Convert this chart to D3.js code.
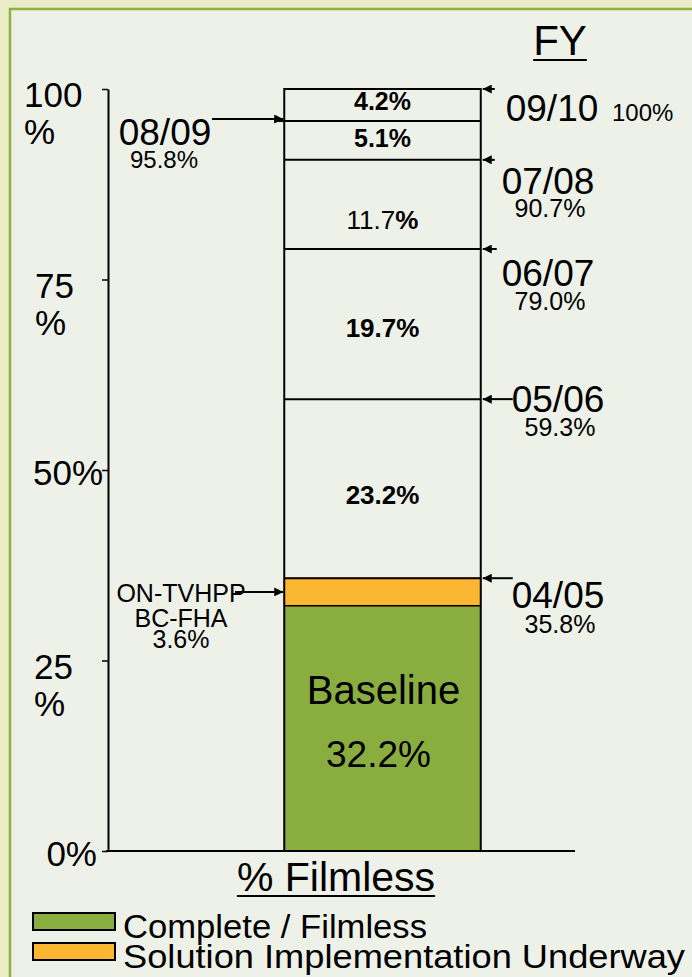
<!DOCTYPE html>
<html>
<head>
<meta charset="utf-8">
<script src="https://cdn.jsdelivr.net/npm/d3@7"></script>
<style>
  html, body { margin: 0; padding: 0; background: #e9ecc6; }
  svg { display: block; font-family: "Liberation Sans", Arial, sans-serif; }
</style>
</head>
<body>
<svg id="chart" width="692" height="977"></svg>
<script>
"use strict";

// values
const fiscalYears = ["04/05", "05/06", "06/07", "07/08", "08/09", "09/10"];
const cumulative = [35.8, 59.3, 79.0, 90.7, 95.8, 100];
const baseline = 32.2;
const underway = 3.6;
const stepLabels = ["23.2%", "19.7%", "11.7%", "5.1%", "4.2%"];
const underwayLines = ["ON-TVHPP", "BC-FHA", "3.6%"];
const tickValues = [0, 25, 50, 75, 100];
const tickLabels = [["0%"], ["25", "%"], ["50%"], ["75", "%"], ["100", "%"]];
const legendItems = ["Complete / Filmless", "Solution Implementation Underway"];
const legendColors = ["#8aad40", "#fbb731"];

const svg = d3.select("#chart");
const W = 692, H = 977;

// panel
svg.append("rect").attr("width", W).attr("height", H).attr("fill", "#e9ecc6");
svg.append("rect")
  .attr("x", 10).attr("y", 9)
  .attr("width", W + 10).attr("height", H + 10)
  .attr("fill", "#eef1e8")
  .attr("stroke", "#8db145")
  .attr("stroke-width", 2.5);

const y = d3.scaleLinear().domain([0, 100]).range([851, 89]);
const x = d3.scaleBand().domain(["% Filmless"]).range([186, 579]).paddingInner(0).paddingOuter(0.5);
const bx = x("% Filmless"), bw = x.bandwidth();

svg.append("defs").append("marker")
  .attr("id", "arrow")
  .attr("viewBox", "0 0 10 10")
  .attr("refX", 10).attr("refY", 5)
  .attr("markerUnits", "userSpaceOnUse")
  .attr("markerWidth", 10).attr("markerHeight", 9)
  .attr("orient", "auto")
  .append("path").attr("d", "M0,0L10,5L0,10z").attr("fill", "#000");

function label(x0, y0, str, size, opts = {}) {
  return svg.append("text")
    .attr("x", x0).attr("y", y0)
    .attr("font-size", size)
    .attr("font-weight", opts.bold ? "bold" : null)
    .attr("text-anchor", opts.anchor || "middle")
    .attr("fill", "#000")
    .text(str);
}

function arrow(x1, x2, yy) {
  svg.append("line")
    .attr("x1", x1).attr("x2", x2).attr("y1", yy).attr("y2", yy)
    .attr("stroke", "#000").attr("stroke-width", 2)
    .attr("marker-end", "url(#arrow)");
}

// y axis
const yAxis = d3.axisLeft(y).tickValues(tickValues).tickSize(6).tickSizeOuter(0).tickFormat("");
svg.append("g")
  .attr("transform", "translate(108,0)")
  .call(yAxis)
  .call(g => g.select(".domain").attr("stroke", "#000").attr("stroke-width", 2))
  .call(g => g.selectAll(".tick line").attr("stroke", "#000").attr("stroke-width", 1.5));

const tickLayout = { 0: { x: 97, anchor: "end", dy: 15 }, 25: { x: 34, dy: 18 }, 50: { x: 33, dy: 15 },
  75: { x: 35, dy: 18 }, 100: { x: 24, dy: 18 } };
tickValues.forEach((v, i) => {
  const t = tickLayout[v];
  tickLabels[i].forEach((s, j) => {
    label(t.x, y(v) + t.dy + j * 37, s, 35, { anchor: t.anchor || "start" });
  });
});

// x axis line
svg.append("line")
  .attr("x1", 106).attr("x2", 575)
  .attr("y1", y(0)).attr("y2", y(0))
  .attr("stroke", "#000").attr("stroke-width", 2);

// segments
const bounds = [0, baseline, baseline + underway].concat(cumulative.slice(1));
const segFill = ["#8aad40", "#fbb731"];
svg.selectAll("rect.seg")
  .data(d3.pairs(bounds))
  .enter().append("rect")
  .attr("class", "seg")
  .attr("x", bx).attr("width", bw)
  .attr("y", d => y(d[1]))
  .attr("height", d => y(d[0]) - y(d[1]))
  .attr("fill", (d, i) => segFill[i] || "none")
  .attr("stroke", (d, i) => i === 1 ? "#e0921a" : "none")
  .attr("stroke-width", 1.5);

// dividers
svg.selectAll("line.div")
  .data(cumulative)
  .enter().append("line")
  .attr("x1", d => d === 95.8 ? 274 : bx).attr("x2", bx + bw)
  .attr("y1", d => y(d)).attr("y2", d => y(d))
  .attr("stroke", "#000").attr("stroke-width", 2);
svg.append("line")
  .attr("x1", bx).attr("x2", bx + bw).attr("y1", y(baseline)).attr("y2", y(baseline))
  .attr("stroke", "#000").attr("stroke-width", 1.5);
svg.append("rect")
  .attr("x", bx).attr("y", y(100))
  .attr("width", bw).attr("height", y(0) - y(100))
  .attr("fill", "none").attr("stroke", "#000").attr("stroke-width", 2);

// labels in the bar
const cx = bx + bw / 2;
const stepDy = [15, 13, 25, 7, 5];
const stepSize = [26, 26, 26, 25, 25];
stepLabels.forEach((s, i) => {
  const mid = (y(cumulative[i]) + y(cumulative[i + 1])) / 2;
  const t = label(cx, mid + stepDy[i], "", stepSize[i]);
  t.append("tspan").attr("font-weight", s === "11.7%" ? null : "bold").text(s.replace("%", ""));
  t.append("tspan").attr("font-weight", "bold").text("%");
});
const gMid = (y(0) + y(baseline)) / 2;
label(cx + 1, gMid - 24, "Baseline", 40);
label(cx - 4, gMid + 39, baseline.toFixed(1) + "%", 37);

// underway annotation
const oMid = (y(baseline) + y(baseline + underway)) / 2;
underwayLines.forEach((s, i) => label(181, oMid + 10 + [0, 25, 46][i], s, 25));
arrow(235, bx - 1, oMid);

// fiscal year annotations
const fyLayout = {
  "04/05": { cx: 558, dy: 30, sdy: 55, len: 30 },
  "05/06": { cx: 558, dy: 13, sdy: 37, len: 30 },
  "06/07": { cx: 548, dy: 37, sdy: 61, len: 14 },
  "07/08": { cx: 548, dy: 34, sdy: 57, len: 12 },
  "09/10": { cx: 552, dy: 32, len: 12 }
};
fiscalYears.forEach((fy, i) => {
  const v = cumulative[i];
  const sub = v === 100 ? "100%" : v.toFixed(1) + "%";
  const yy = y(v);
  if (fy === "08/09") {
    arrow(212, bx - 1, yy - 2);
    label(165, yy + 24, fy, 37);
    label(164, yy + 47, sub, 24);
    return;
  }
  const L = fyLayout[fy];
  arrow(bx + bw + 2 + L.len, bx + bw + 2, yy);
  label(L.cx, yy + L.dy, fy, 37);
  if (L.sdy) label(L.cx + 2, yy + L.sdy, sub, 25);
  else label(612, yy + L.dy, sub, 24, { anchor: "start" });
});

// titles
function underlined(x0, y0, str, size) {
  const t = label(x0, y0, str, size);
  const w = t.node().getComputedTextLength();
  svg.append("line")
    .attr("x1", x0 - w / 2).attr("x2", x0 + w / 2)
    .attr("y1", y0 + 5).attr("y2", y0 + 5)
    .attr("stroke", "#000").attr("stroke-width", 2);
}
underlined(560, 55, "FY", 42);
underlined(336, 891, "% Filmless", 41);

// legend
const legendWidths = [304, 562];
legendItems.forEach((s, i) => {
  svg.append("rect")
    .attr("x", 33).attr("y", 913 + i * 30)
    .attr("width", 82).attr("height", 17)
    .attr("fill", legendColors[i])
    .attr("stroke", "#000").attr("stroke-width", 2);
  label(123, 938 + i * 30, s, 33, { anchor: "start" })
    .attr("textLength", legendWidths[i])
    .attr("lengthAdjust", "spacingAndGlyphs");
});
</script>
</body>
</html>
